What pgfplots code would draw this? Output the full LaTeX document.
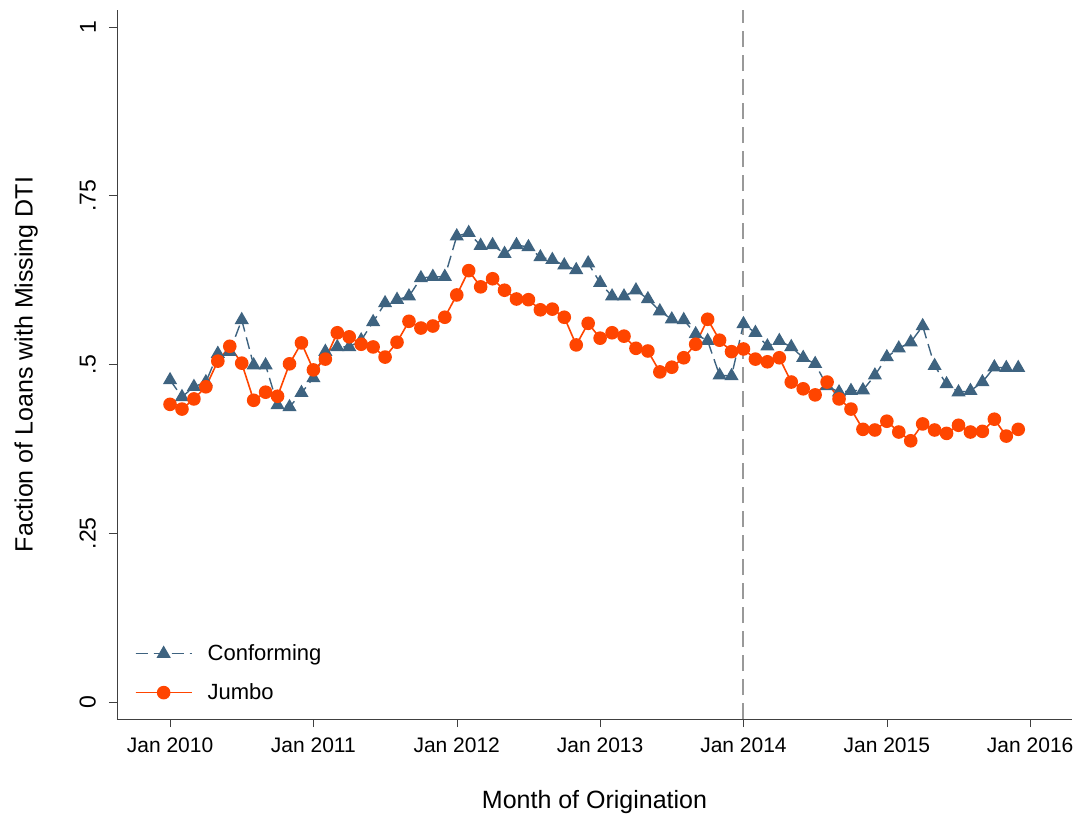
\documentclass[border=0pt]{standalone}
\usepackage{pgfplots}
\pgfplotsset{compat=1.18}
\usepackage{fontspec}
\setmainfont{Liberation Sans}
\definecolor{conf}{HTML}{3E6380}
\definecolor{jumbo}{HTML}{FF4500}
\begin{document}
\begin{tikzpicture}[x=1pt,y=1pt]
\begin{axis}[
  scale only axis, width=477.5pt, height=354.5pt,
  xmin=-4.44, xmax=75.5, ymin=-0.025, ymax=1.025,
  axis x line*=bottom, axis y line*=left,
  axis line style={black!75, -},
  tick style={black!75}, tick align=outside, major tick length=4pt,
  xtick={0,12,24,36,48,60,72},
  xticklabels={Jan 2010,Jan 2011,Jan 2012,Jan 2013,Jan 2014,Jan 2015,Jan 2016},
  ytick={0,0.25,0.5,0.75,1},
  yticklabels={0,.25,.5,.75,1},
  yticklabel style={rotate=90, anchor=south, font=\fontsize{11.5}{13}\selectfont, yshift=3pt},
  xticklabel style={font=\fontsize{10.5}{12}\selectfont, yshift=-2pt},
  /pgf/number format/assume math mode=true,
  xlabel={Month of Origination}, ylabel={Faction of Loans with Missing DTI},
  label style={font=\fontsize{12.5}{14}\selectfont},
  xlabel style={yshift=-12pt},
  ylabel style={yshift=14pt},
  legend style={draw=none, at={(0.012,0.012)}, anchor=south west, font=\fontsize{11}{13}\selectfont, row sep=6pt},
  legend image code/.code={\path[draw=none,fill=none] (0pt,-0.1pt) rectangle (34pt,0.1pt); \draw[#1] (0pt,0pt) -- (28pt,0pt); \draw[#1, mark repeat=2, mark phase=2] plot coordinates {(0pt,0pt) (14pt,0pt) (28pt,0pt)};},
  legend cell align=left,
  clip=false,
]
\draw[black!40, dash pattern=on 8pt off 4pt, line width=1pt] (axis cs:48,-0.025) -- (axis cs:48,1.025);
\addplot[conf, dash pattern=on 6pt off 3pt, line width=0.7pt, mark=triangle*, mark size=3.4pt, mark options={solid}] table {
x y
0 .477
1 .452
2 .467
3 .474
4 .516
5 .519
6 .566
7 .499
8 .499
9 .440
10 .437
11 .458
12 .480
13 .519
14 .526
15 .526
16 .536
17 .563
18 .591
19 .596
20 .601
21 .628
22 .630
23 .630
24 .690
25 .695
26 .676
27 .677
28 .664
29 .677
30 .674
31 .659
32 .655
33 .647
34 .640
35 .650
36 .621
37 .601
38 .601
39 .610
40 .597
41 .579
42 .567
43 .566
44 .545
45 .535
46 .484
47 .483
48 .560
49 .547
50 .527
51 .535
52 .526
53 .510
54 .501
55 .468
56 .459
57 .461
58 .462
59 .484
60 .511
61 .524
62 .533
63 .557
64 .498
65 .471
66 .459
67 .461
68 .474
69 .496
70 .495
71 .495
};
\addlegendentry{Conforming}
\addplot[jumbo, line width=0.8pt, mark=*, mark size=3pt] table {
x y
0 .441
1 .434
2 .449
3 .467
4 .505
5 .527
6 .502
7 .447
8 .459
9 .453
10 .501
11 .532
12 .492
13 .508
14 .547
15 .541
16 .530
17 .526
18 .511
19 .533
20 .564
21 .554
22 .557
23 .570
24 .603
25 .639
26 .615
27 .627
28 .610
29 .597
30 .596
31 .581
32 .582
33 .570
34 .529
35 .561
36 .539
37 .547
38 .542
39 .524
40 .520
41 .489
42 .496
43 .510
44 .530
45 .567
46 .536
47 .519
48 .523
49 .508
50 .504
51 .510
52 .474
53 .464
54 .455
55 .474
56 .449
57 .434
58 .404
59 .403
60 .416
61 .400
62 .387
63 .412
64 .403
65 .398
66 .410
67 .400
68 .401
69 .419
70 .394
71 .404
};
\addlegendentry{Jumbo}
\end{axis}
\pgfresetboundingbox
\path (current axis.south west) ++(-58.5pt,-48.5pt) rectangle ++(540.5pt,408pt);
\end{tikzpicture}
\end{document}
